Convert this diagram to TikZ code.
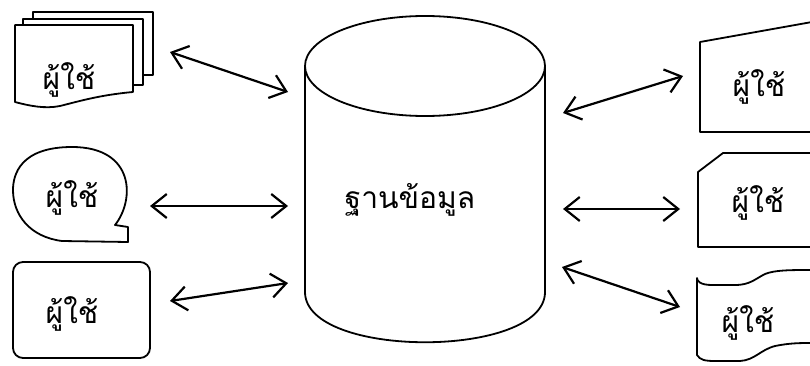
\documentclass[tikz,border=0pt]{standalone}
\usepackage{fontspec}
\newfontfamily\thaifont[Script=Thai]{Loma}
\usetikzlibrary{arrows.meta}
\tikzset{
  shapeline/.style={draw=black, line width=1.8pt, line join=round},
  conn/.style={draw=black, line width=2.2pt, {Straight Barb[length=15pt,width=24pt,line width=2.2pt]}-{Straight Barb[length=15pt,width=24pt,line width=2.2pt]}},
  usr/.style={font=\thaifont\fontsize{30}{32}\selectfont, inner sep=0pt},
  dbtext/.style={font=\thaifont\fontsize{30}{32}\selectfont, inner sep=0pt}
}
\begin{document}
\begin{tikzpicture}[x=1pt,y=1pt]
\useasboundingbox (0,0) rectangle (810,365);
% database cylinder
\path[shapeline] (305,299) -- (305,73) .. controls (305,6) and (545,6) .. (545,73) -- (545,299);
\path[shapeline] (425,299) ellipse [x radius=120, y radius=50];
\node[dbtext] (db) at (410,165) {ฐานข้อมูล};
% box 1: multi document
\path[shapeline] (33,346) -- (33,353) -- (153,353) -- (153,290) -- (143,290);
\path[shapeline] (23,340) -- (23,346) -- (143,346) -- (143,280) -- (133,280);
\path[shapeline] (15,340) -- (15,263) .. controls (30,259) and (45,256) .. (60,259) .. controls (80,264) and (100,270) .. (133,273) -- (133,340) -- cycle;
\node[usr] (u1) at (69,285) {ผู้ใช้};
% box 2: bubble
\path[shapeline] (128,123) -- (128,138) -- (115,140) .. controls (135,165) and (135,218) .. (72,218) .. controls (20,218) and (13,190) .. (13,175) .. controls (13,150) and (30,128) .. (62,124) -- cycle;
\node[usr] (u2) at (72,167) {ผู้ใช้};
% box 3: rounded rectangle
\path[shapeline, rounded corners=10pt] (13,7) rectangle (150,103);
\node[usr] (u3) at (72,51) {ผู้ใช้};
% box 4: manual input
\path[shapeline] (812,343) -- (700,323) -- (700,233) -- (812,233);
\node[usr] (u4) at (759,278) {ผู้ใช้};
% box 5: card
\path[shapeline] (812,212) -- (723,212) -- (698,193) -- (698,118) -- (812,118);
\node[usr] (u5) at (758,162) {ผู้ใช้};
% box 6: punched tape
\path[shapeline] (812,95) .. controls (790,95) and (775,95) .. (765,91) .. controls (755,86) and (750,80) .. (735,80) -- (712,80) .. controls (700,80) and (697,84) .. (697,87) -- (697,10) .. controls (700,5) and (705,4) .. (715,4) -- (740,4) .. controls (755,5) and (760,15) .. (775,19) .. controls (790,22) and (800,22) .. (812,22);
\node[usr] (u6) at (748,42) {ผู้ใช้};
% connector ends
\coordinate (a1l) at (170,313); \coordinate (a1r) at (288,273);
\coordinate (a2l) at (150,159); \coordinate (a2r) at (288,159);
\coordinate (a3l) at (170,64);  \coordinate (a3r) at (288,82);
\coordinate (a4l) at (563,252); \coordinate (a4r) at (683,289);
\coordinate (a5l) at (563,156); \coordinate (a5r) at (680,156);
\coordinate (a6l) at (562,98);  \coordinate (a6r) at (680,58);
\draw[conn] (a1l) -- (a1r);
\draw[conn] (a2l) -- (a2r);
\draw[conn] (a3l) -- (a3r);
\draw[conn] (a4l) -- (a4r);
\draw[conn] (a5l) -- (a5r);
\draw[conn] (a6l) -- (a6r);
\end{tikzpicture}
\end{document}
